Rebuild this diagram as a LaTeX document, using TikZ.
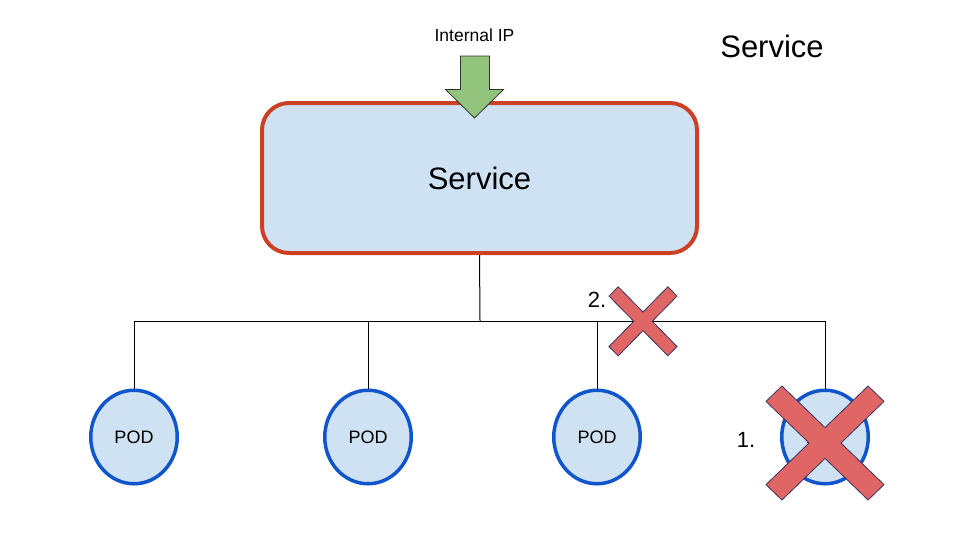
\documentclass[tikz,border=0pt]{standalone}
\usepackage{fontspec}
\setmainfont{Liberation Sans}
\usetikzlibrary{shapes.geometric}
\definecolor{boxfill}{HTML}{CFE2F3}
\definecolor{boxred}{HTML}{CC4125}
\definecolor{podblue}{HTML}{1155CC}
\definecolor{arrgreen}{HTML}{93C47D}
\definecolor{crossred}{HTML}{E06666}
\definecolor{crossline}{HTML}{3A3360}
\tikzset{
  servicebox/.style={draw=boxred, fill=boxfill, line width=4pt, rounded corners=27pt,
    minimum width=435pt, minimum height=150pt, inner sep=0pt, font=\fontsize{31}{36}\selectfont},
  pod/.style={ellipse, draw=podblue, fill=boxfill, line width=3.5pt,
    minimum width=86.5pt, minimum height=93.5pt, inner sep=0pt, font=\fontsize{18}{21}\selectfont},
  conn/.style={draw=black, line width=1pt},
  lbl/.style={inner sep=0pt, font=\fontsize{22}{26}\selectfont},
  xmark/.pic={\draw[fill=crossred, draw=crossline, line width=0.8pt, line join=miter]
    (-0.73,-1) -- (0,-0.27) -- (0.73,-1) -- (1,-0.73) -- (0.27,0) -- (1,0.73) --
    (0.73,1) -- (0,0.27) -- (-0.73,1) -- (-1,0.73) -- (-0.27,0) -- (-1,-0.73) -- cycle;}
}
\begin{document}
\begin{tikzpicture}[x=1pt,y=-1pt]
\useasboundingbox[fill=white] (0,0) rectangle (960,558);
% title
\node[inner sep=0pt, font=\fontsize{31}{36}\selectfont] (title) at (772,46) {Service};
% service box
\node[servicebox] (svc) at (479.5,178) {Service};
% arrow label
\node[inner sep=0pt, font=\fontsize{17.5}{20}\selectfont] (iip) at (474.5,35) {Internal IP};
% arrow
\draw[fill=arrgreen, draw=black!80, line width=0.8pt]
  (460.5,56) -- (489.5,56) -- (489.5,89.5) -- (503.5,89.5) -- (474.5,118) --
  (445.5,89.5) -- (460.5,89.5) -- cycle;
% pods
\node[pod] (pod1) at (134,437) {POD};
\node[pod] (pod2) at (368,437) {POD};
\node[pod] (pod3) at (597,437) {POD};
\node[pod] (pod4) at (825,437) {POD};
% connectors
\coordinate (jc) at (480,321);
\coordinate (j1) at (134,321);
\coordinate (j2) at (368,321);
\coordinate (j3) at (597,321);
\coordinate (j4) at (825,321);
\draw[conn] (svc.south) -- (jc);
\draw[conn] (j1) -- (j4);
\draw[conn] (j1) -- (pod1.north);
\draw[conn] (j2) -- (pod2.north);
\draw[conn] (j3) -- (pod3.north);
\draw[conn] (j4) -- (pod4.north);
% labels
\node[lbl] (l1) at (746,440) {1.};
\node[lbl] (l2) at (597,300) {2.};
% crosses
\pic[xscale=34,yscale=34.5] at (643,321.3) {xmark};
\pic[xscale=59,yscale=57] at (825,443) {xmark};
\end{tikzpicture}
\end{document}
